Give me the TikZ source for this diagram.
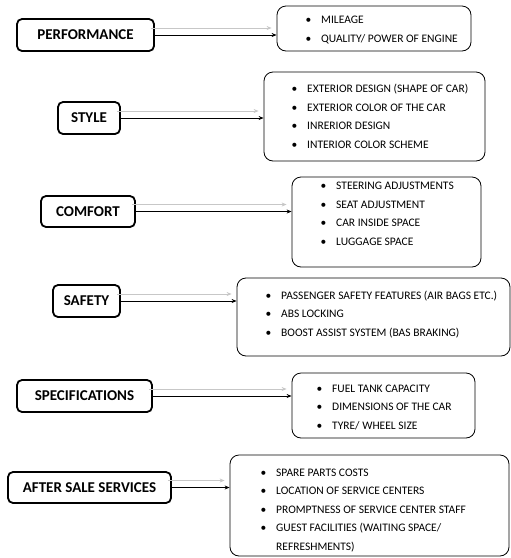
\documentclass[tikz,border=0pt]{standalone}
\usepackage{fontspec}
\setmainfont{Carlito}
\usetikzlibrary{arrows.meta}

\newcommand{\bitem}[1]{\makebox[15.5pt][l]{\textbullet}#1}

\begin{document}
\begin{tikzpicture}[x=1pt, y=-1pt,
  every node/.style={font=\fontsize{11.5}{18.6}\selectfont},
  factor/.style={draw, line width=1.8pt, rounded corners=5pt, fill=white,
    font=\bfseries\fontsize{15}{17}\selectfont, inner sep=0pt},
  listbox/.style={draw, line width=0.8pt, rounded corners=9pt, inner sep=0pt},
  items/.style={anchor=north west, align=left, inner sep=0pt},
  link/.style={-{Stealth[length=5pt,width=4pt]}, line width=0.8pt},
  ghost/.style={-{Stealth[length=5pt,width=4pt]}, line width=0.8pt, black!22}
]
\useasboundingbox (0,0) rectangle (511,558);

% ---- factors (left column) ----
\node[factor, minimum width=137pt, minimum height=32pt] (perf)    at (85.5,35)   {PERFORMANCE};
\node[factor, minimum width=62pt,  minimum height=32pt] (style)   at (89,118)    {STYLE};
\node[factor, minimum width=94pt,  minimum height=31pt] (comfort) at (88,211.5)  {COMFORT};
\node[factor, minimum width=67pt,  minimum height=32pt] (safety)  at (86.5,301)  {SAFETY};
\node[factor, minimum width=135pt, minimum height=32pt] (spec)    at (84.5,396)  {SPECIFICATIONS};
\node[factor, minimum width=163pt, minimum height=31pt] (after)   at (89.5,487.5) {AFTER SALE SERVICES};

% ---- list boxes (right column) ----
\node[listbox, minimum width=194pt, minimum height=45pt]  (perfBox)    at (374,28.5)   {};
\node[listbox, minimum width=221pt, minimum height=89pt]  (styleBox)   at (374.5,116.5) {};
\node[listbox, minimum width=189pt, minimum height=90pt]  (comfortBox) at (386.5,222)  {};
\node[listbox, minimum width=273pt, minimum height=78pt]  (safetyBox)  at (373.5,317)  {};
\node[listbox, minimum width=183pt, minimum height=65pt]  (specBox)    at (383.5,405.5) {};
\node[listbox, minimum width=279pt, minimum height=101pt] (afterBox)   at (369.5,505.5) {};

% ---- items in the boxes ----
% performance
\node[items] (perfList) at (305.5,16) {\bitem{MILEAGE}\\
  \bitem{QUALITY/ POWER OF ENGINE}};
% style
\node[items] (styleList) at (291.5,84) {\bitem{EXTERIOR DESIGN (SHAPE OF CAR)}\\
  \bitem{EXTERIOR COLOR OF THE CAR}\\
  \bitem{INRERIOR DESIGN}\\
  \bitem{INTERIOR COLOR SCHEME}};
% comfort
\node[items] (comfortList) at (320.5,182) {\bitem{STEERING ADJUSTMENTS}\\
  \bitem{SEAT ADJUSTMENT}\\
  \bitem{CAR INSIDE SPACE}\\
  \bitem{LUGGAGE SPACE}};
% safety
\node[items] (safetyList) at (265.5,290.5) {\bitem{PASSENGER SAFETY FEATURES (AIR BAGS ETC.)}\\
  \bitem{ABS LOCKING}\\
  \bitem{BOOST ASSIST SYSTEM (BAS BRAKING)}};
% specifications
\node[items] (specList) at (316.5,384.5) {\bitem{FUEL TANK CAPACITY}\\
  \bitem{DIMENSIONS OF THE CAR}\\
  \bitem{TYRE/ WHEEL SIZE}};
% after sale services
\node[items] (afterList) at (260.5,468.5) {\bitem{SPARE PARTS COSTS}\\
  \bitem{LOCATION OF SERVICE CENTERS}\\
  \bitem{PROMPTNESS OF SERVICE CENTER STAFF}\\
  \bitem{GUEST FACILITIES (WAITING SPACE/}\\
  \hspace*{15.5pt}REFRESHMENTS)};

% ---- arrows: grey one above, black one at mid height ----
\foreach \f/\b in {perf/perfBox, style/styleBox, comfort/comfortBox,
                   safety/safetyBox, spec/specBox, after/afterBox} {
  \draw[ghost] ([xshift=-4pt, yshift=7pt]\f.east)
    -- ([xshift=-5pt, yshift=7pt]\f.east -| \b.west);
  \draw[link] (\f.east) -- (\f.east -| \b.west);
}

\end{tikzpicture}
\end{document}
